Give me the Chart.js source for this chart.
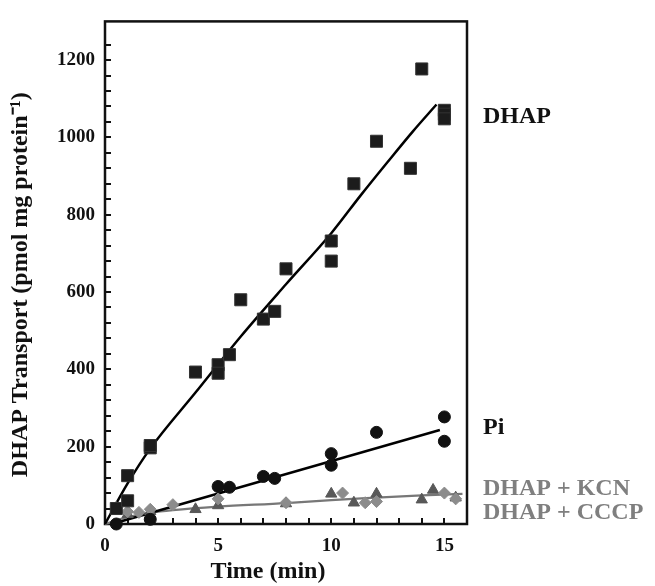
<!DOCTYPE html>
<html>
<head>
<meta charset="utf-8">
<script src="https://cdn.jsdelivr.net/npm/chart.js@4.4.1/dist/chart.umd.min.js"></script>
<style>
  html, body { margin: 0; padding: 0; background: #fff; }
</style>
</head>
<body>
<canvas id="chart" width="655" height="586"></canvas>
<script>
// DHAP uptake (squares)
const dhapTime = [0.5, 1, 1, 2, 2, 4, 5, 5, 5.5, 6, 7, 7.5, 8, 10, 10, 11, 12, 13.5, 14, 15, 15, 15];
const dhapValue = [40, 125, 60, 197, 203, 393, 412, 390, 438, 580, 530, 550, 660, 732, 680, 880, 990, 920, 1177, 1070, 1060, 1048];
const dhapFitTime = [0, 1, 2, 4, 6, 8, 10, 11.3, 12.5, 13.6, 14.65];
const dhapFitValue = [0, 105, 195, 340, 485, 620, 752, 850, 937, 1015, 1085];

// Pi (circles)
const piTime = [0.5, 2, 5, 5.5, 7, 7.5, 10, 10, 12, 15, 15];
const piValue = [0, 12, 97, 95, 123, 118, 182, 152, 237, 277, 214];
const piFitTime = [0.3, 14.8];
const piFitValue = [0, 243];

// DHAP + KCN (triangles)
const kcnTime = [0.5, 1, 2, 4, 5, 8, 10, 11, 12, 14, 14.5, 15.5];
const kcnValue = [42, 25, 33, 38, 48, 53, 78, 55, 78, 63, 88, 68];

// DHAP + CCCP (diamonds)
const cccpTime = [1, 1.5, 2, 3, 5, 8, 10.5, 11.5, 12, 15, 15.5];
const cccpValue = [32, 30, 38, 50, 65, 55, 80, 55, 58, 80, 65];

// shared fit for the inhibitor curves
const grayFitTime = [0, 1, 2, 3, 5, 8, 10, 12, 14, 15.8];
const grayFitValue = [0, 18, 29, 36, 45, 54, 62, 68, 74, 78];

const xTicksMax = 16;
const yTicksMax = 1300;

const serif = '"Liberation Serif", "Times New Roman", serif';

function pts(xs, ys) {
    return xs.map((x, i) => ({ x: x, y: ys[i] }));
}

// inward tick marks, frame and series labels
const decor = {
    id: 'decor',
    beforeDatasetsDraw(chart) {
        const ctx = chart.ctx;
        const a = chart.chartArea;
        const xs = chart.scales.x, ys = chart.scales.y;
        ctx.save();
        ctx.strokeStyle = '#111';
        ctx.lineWidth = 2;
        xs.ticks.forEach(t => {
            if (t.value <= 0 || t.value >= xTicksMax) return;
            const px = Math.round(xs.getPixelForValue(t.value));
            ctx.beginPath();
            ctx.moveTo(px, a.bottom);
            ctx.lineTo(px, a.bottom - 6);
            ctx.stroke();
        });
        ys.ticks.forEach(t => {
            if (t.value <= 0 || t.value % 40 !== 0) return;
            const py = Math.round(ys.getPixelForValue(t.value));
            ctx.beginPath();
            ctx.moveTo(a.left, py);
            ctx.lineTo(a.left + 6, py);
            ctx.stroke();
        });
        ctx.lineWidth = 2.5;
        ctx.strokeRect(a.left, a.top, a.right - a.left, a.bottom - a.top);
        ctx.restore();
    },
    afterDraw(chart) {
        const ctx = chart.ctx;
        const a = chart.chartArea;
        const ys = chart.scales.y;
        const labels = [
            ['DHAP', 1036, '#111'],
            ['Pi', 232, '#111'],
            ['DHAP + KCN', 76, '#7f7f7f'],
            ['DHAP + CCCP', 13, '#7f7f7f']
        ];
        ctx.save();
        ctx.font = 'bold 24px ' + serif;
        ctx.textBaseline = 'alphabetic';
        ctx.textAlign = 'left';
        labels.forEach(l => {
            ctx.fillStyle = l[2];
            ctx.fillText(l[0], a.right + 16, ys.getPixelForValue(l[1]));
        });
        ctx.restore();
    }
};

const ctx = document.getElementById('chart').getContext('2d');
new Chart(ctx, {
    type: 'scatter',
    data: {
        datasets: [
            {
                label: 'DHAP fit',
                data: pts(dhapFitTime, dhapFitValue),
                showLine: true,
                pointRadius: 0,
                borderColor: '#000',
                borderWidth: 2.5,
                cubicInterpolationMode: 'monotone',
                order: 5
            },
            {
                label: 'Pi fit',
                data: pts(piFitTime, piFitValue),
                showLine: true,
                pointRadius: 0,
                borderColor: '#000',
                borderWidth: 2.5,
                order: 5
            },
            {
                label: 'Inhibitor fit',
                data: pts(grayFitTime, grayFitValue),
                showLine: true,
                pointRadius: 0,
                borderColor: '#777',
                borderWidth: 2.2,
                cubicInterpolationMode: 'monotone',
                order: 5
            },
            {
                label: 'DHAP + KCN',
                data: pts(kcnTime, kcnValue),
                pointStyle: 'triangle',
                pointRadius: 6.5,
                backgroundColor: '#585858',
                borderColor: '#585858',
                borderWidth: 1,
                order: 4
            },
            {
                label: 'DHAP + CCCP',
                data: pts(cccpTime, cccpValue),
                pointStyle: 'rectRot',
                pointRadius: 6,
                backgroundColor: '#8c8c8c',
                borderColor: '#8c8c8c',
                borderWidth: 1,
                order: 3
            },
            {
                label: 'Pi',
                data: pts(piTime, piValue),
                pointStyle: 'circle',
                pointRadius: 6,
                backgroundColor: '#111',
                borderColor: '#111',
                borderWidth: 1,
                order: 2
            },
            {
                label: 'DHAP',
                data: pts(dhapTime, dhapValue),
                pointStyle: 'rect',
                pointRadius: 8.5,
                backgroundColor: '#1c1c1c',
                borderColor: '#333',
                borderWidth: 1,
                order: 1
            }
        ]
    },
    options: {
        responsive: false,
        animation: false,
        clip: false,
        layout: { padding: { top: 14, right: 188, left: 0, bottom: 0 } },
        plugins: {
            legend: { display: false },
            tooltip: { enabled: false }
        },
        scales: {
            x: {
                type: 'linear',
                min: 0,
                max: xTicksMax,
                afterFit: s => { s.height = 62; },
                grid: { drawOnChartArea: false, drawTicks: false, display: false },
                border: { display: false },
                ticks: {
                    stepSize: 1,
                    autoSkip: false,
                    maxRotation: 0,
                    padding: 11,
                    color: '#111',
                    font: { family: serif, size: 19, weight: 'bold' },
                    callback: v => (v % 5 === 0 ? v : '')
                },
                title: {
                    display: true,
                    text: 'Time (min)\u2003\u2002',
                    color: '#111',
                    font: { family: serif, size: 24, weight: 'bold' },
                    padding: { top: 0, bottom: 0 }
                }
            },
            y: {
                type: 'linear',
                min: 0,
                max: yTicksMax,
                afterFit: s => { s.width = 105; },
                grid: { drawOnChartArea: false, drawTicks: false, display: false },
                border: { display: false },
                ticks: {
                    stepSize: 40,
                    autoSkip: false,
                    padding: 10,
                    color: '#111',
                    font: { family: serif, size: 19, weight: 'bold' },
                    callback: v => (v % 200 === 0 ? v : '')
                },
                title: {
                    display: true,
                    text: 'DHAP Transport (pmol mg protein\u207B\u00B9)\u2003',
                    color: '#111',
                    font: { family: serif, size: 24, weight: 'bold' },
                    padding: { top: 6, bottom: 0 }
                }
            }
        }
    },
    plugins: [decor]
});
</script>
</body>
</html>
